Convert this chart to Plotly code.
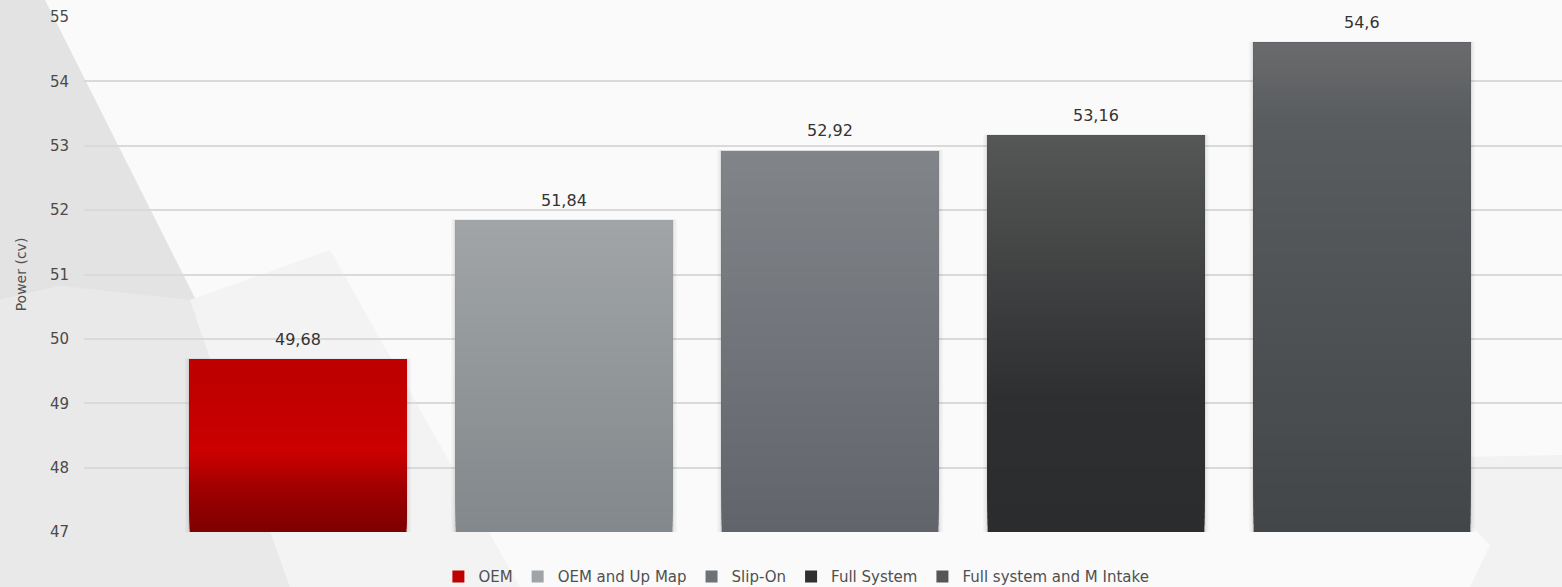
import plotly.graph_objects as go

# ---------------- data ----------------
series = ["OEM", "OEM and Up Map", "Slip-On", "Full System", "Full system and M Intake"]
power = [49.68, 51.84, 52.92, 53.16, 54.6]
labels = ["49,68", "51,84", "52,92", "53,16", "54,6"]
y_min, y_max = 47, 55
y_ticks = [47, 48, 49, 50, 51, 52, 53, 54, 55]

# ---------------- style ----------------
# gradient stops (fraction from bottom of bar, colour)
gradients = [
    [(0.0, (125, 0, 0)), (0.25, (160, 0, 0)), (0.47, (205, 0, 0)), (0.56, (200, 0, 0)), (1.0, (189, 0, 0))],
    [(0.0, (130, 136, 139)), (1.0, (161, 165, 167))],
    [(0.0, (97, 100, 107)), (1.0, (129, 132, 136))],
    [(0.0, (43, 44, 46)), (0.35, (46, 47, 49)), (1.0, (86, 88, 87))],
    [(0.0, (66, 70, 73)), (0.85, (90, 93, 96)), (1.0, (106, 107, 109))],
]
legend_colors = ["#c00000", "#a0a4a6", "#6e7176", "#2f3032", "#54575a"]
N_SEG = 60
BAR_W = 0.815

W, H = 1562, 587
ML, MR, MT, MB = 84, 0, 17, 55
PW, PH = W - ML - MR, H - MT - MB


def interp(stops, f):
    for (f0, c0), (f1, c1) in zip(stops[:-1], stops[1:]):
        if f0 <= f <= f1:
            t = 0 if f1 == f0 else (f - f0) / (f1 - f0)
            c = [round(a + (b - a) * t) for a, b in zip(c0, c1)]
            return "rgb(%d,%d,%d)" % tuple(c)
    return "rgb(%d,%d,%d)" % stops[-1][1]


def px(xp):
    return (xp - ML) / PW


def py(yp):
    return (H - MB - yp) / PH


fig = go.Figure()

# soft shadows behind bars
for k, (extra, alpha) in enumerate([(0.036, 0.025), (0.024, 0.035), (0.012, 0.05)]):
    fig.add_trace(go.Bar(
        x=series, y=[v - y_min + 0.015 for v in power], base=[y_min] * len(series),
        width=BAR_W + extra, marker=dict(color="rgba(0,0,0,%.3f)" % alpha, line=dict(width=0)),
        showlegend=False, hoverinfo="skip"))

# gradient bars built from overlapping segments
for i, (name, v) in enumerate(zip(series, power)):
    h = v - y_min
    bases, heights, cols = [], [], []
    for k in range(N_SEG):
        b = y_min + h * k / N_SEG
        bases.append(b)
        heights.append(v - b)
        cols.append(interp(gradients[i], (k + 0.5) / N_SEG))
    fig.add_trace(go.Bar(
        x=[name] * N_SEG, y=heights, base=bases, width=BAR_W,
        marker=dict(color=cols, line=dict(width=0)),
        showlegend=False, hovertemplate=name + ": " + labels[i] + "<extra></extra>"))

# legend entries
for name, c in zip(series, legend_colors):
    fig.add_trace(go.Bar(x=[None], y=[None], name=name, marker=dict(color=c, line=dict(width=0))))

# value labels
for name, v, lab in zip(series, power, labels):
    fig.add_annotation(x=name, y=v, text=lab, showarrow=False, yshift=20,
                       font=dict(family="DejaVu Sans", size=16, color="#333333"))

# background decoration
shapes = [
    dict(type="path", xref="paper", yref="paper", layer="below", line=dict(width=0),
         fillcolor="#e3e3e4",
         path="M %f,%f L %f,%f L %f,%f L %f,%f L %f,%f Z" % (
             px(0), py(0), px(45), py(0), px(205), py(318), px(62), py(286), px(0), py(300))),
    dict(type="path", xref="paper", yref="paper", layer="below", line=dict(width=0),
         fillcolor="#e9e9ea",
         path="M %f,%f L %f,%f L %f,%f L %f,%f L %f,%f Z" % (
             px(0), py(300), px(62), py(286), px(190), py(300), px(290), py(587), px(0), py(587))),
    dict(type="path", xref="paper", yref="paper", layer="below", line=dict(width=0),
         fillcolor="#f3f3f4",
         path="M %f,%f L %f,%f L %f,%f L %f,%f Z" % (
             px(190), py(300), px(330), py(250), px(520), py(587), px(290), py(587))),
    dict(type="path", xref="paper", yref="paper", layer="below", line=dict(width=0),
         fillcolor="#f2f2f2",
         path="M %f,%f L %f,%f L %f,%f L %f,%f L %f,%f Z" % (
             px(1405), py(458), px(1562), py(455), px(1562), py(587), px(1470), py(587), px(1490), py(545))),
]

fig.update_layout(
    width=W, height=H,
    margin=dict(l=ML, r=MR, t=MT, b=MB, autoexpand=False),
    paper_bgcolor="#fafafa", plot_bgcolor="rgba(0,0,0,0)",
    barmode="overlay", shapes=shapes,
    font=dict(family="DejaVu Sans", color="#555555"),
    xaxis=dict(range=[-0.805, 4.752], showticklabels=False, showgrid=False, zeroline=False,
               showline=False, fixedrange=True),
    yaxis=dict(range=[y_min, y_max], tickvals=y_ticks, ticktext=[str(t) for t in y_ticks],
               showgrid=True, gridcolor="#dadada", gridwidth=1.5, zeroline=False, showline=False,
               tickfont=dict(size=15, color="#4a4a4a"), ticklabelstandoff=14,
               title=dict(text="Power (cv)", font=dict(size=14, color="#505050"), standoff=20)),
    legend=dict(orientation="h", x=0.482, xanchor="center", y=-0.055, yanchor="top",
                font=dict(size=15, color="#505050"), itemwidth=30, bgcolor="rgba(0,0,0,0)",
                itemclick=False, itemdoubleclick=False),
    showlegend=True,
)

fig.write_html("out.html", config={"displayModeBar": False},
               post_script="document.body.style.margin='0';document.body.style.overflow='hidden';")
